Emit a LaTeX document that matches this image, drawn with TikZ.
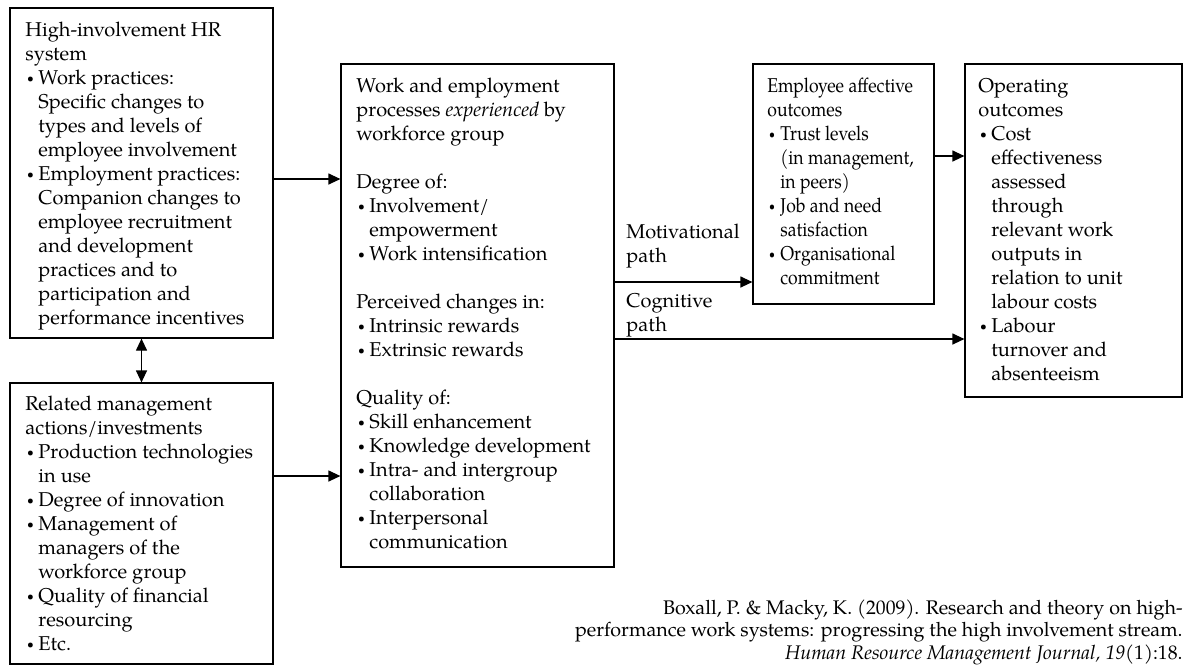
\documentclass[tikz,border=0pt]{standalone}
\usepackage{fontspec}
\setmainfont{TeX Gyre Pagella}
\newfontfamily\narrowpag[FakeStretch=0.88]{TeX Gyre Pagella}
\usetikzlibrary{arrows.meta,fit}
% small list bullet and the matching hanging indent
\newcommand\bu{\makebox[6.5pt][l]{\hspace{0.8pt}\raisebox{0.9pt}{\scalebox{0.6}{\textbullet}}}}
\newcommand\ind{\hspace*{6.5pt}}
\begin{document}
\begin{tikzpicture}[x=0.5pt,y=-0.5pt,
  box/.style={draw,line width=0.6pt,inner sep=0pt},
  txt/.style={anchor=north west,inner sep=0pt,align=left,font=\fontsize{10}{12}\selectfont},
  arr/.style={line width=0.6pt,-{Triangle[length=6pt,width=5.5pt]}},
  darr/.style={line width=0.6pt,{Triangle[length=6pt,width=5.5pt]}-{Triangle[length=6pt,width=5.5pt]}}]
\useasboundingbox (0,0) rectangle (1192,666);

% frames
\node[box,fit={(10,8)(273,338)}] (hr) {};
\node[box,fit={(10,383)(273,664)}] (rm) {};
\node[box,fit={(341,64)(614,567)}] (wp) {};
\node[box,fit={(753,64)(934,304)}] (ea) {};
\node[box,fit={(965,64)(1182,397)}] (oo) {};

% contents
\node[txt] (hrt) at (25,19.2) {\strut High-involvement HR\\
system\\
\bu Work practices:\\
\ind Specific changes to\\
\ind types and levels of\\
\ind employee involvement\\
\bu Employment practices:\\
\ind Companion changes to\\
\ind employee recruitment\\
\ind and development\\
\ind practices and to\\
\ind participation and\\
\ind performance incentives};

\node[txt] (rmt) at (25,393.2) {\strut Related management\\
actions/investments\\
\bu Production technologies\\
\ind in use\\
\bu Degree of innovation\\
\bu Management of\\
\ind managers of the\\
\ind workforce group\\
\bu Quality of financial\\
\ind resourcing\\
\bu Etc.};

\node[txt] (wpt) at (356,75.2) {\strut Work and employment\\
processes \textit{experienced} by\\
workforce group\\[12pt]
Degree of:\\
\bu Involvement/\\
\ind empowerment\\
\bu Work intensification\\[12pt]
Perceived changes in:\\
\bu Intrinsic rewards\\
\bu Extrinsic rewards\\[12pt]
Quality of:\\
\bu Skill enhancement\\
\bu Knowledge development\\
\bu Intra- and intergroup\\
\ind collaboration\\
\bu Interpersonal\\
\ind communication};

\node[txt,font=\narrowpag\fontsize{10}{12}\selectfont] (eat) at (767,75.2) {\strut Employee affective\\
outcomes\\
\bu Trust levels\\
\ind (in management,\\
\ind in peers)\\
\bu Job and need\\
\ind satisfaction\\
\bu Organisational\\
\ind commitment};

\node[txt] (oot) at (978,75.2) {\strut Operating\\
outcomes\\
\bu Cost\\
\ind effectiveness\\
\ind assessed\\
\ind through\\
\ind relevant work\\
\ind outputs in\\
\ind relation to unit\\
\ind labour costs\\
\bu Labour\\
\ind turnover and\\
\ind absenteeism};

% path labels
\node[txt] (mot) at (626,221.2) {\strut Motivational\\path};
\node[txt] (cog) at (626,290.2) {\strut Cognitive\\path};

% connectors
\draw[arr] (hr.east |- 0,179) -- (wp.west |- 0,179);
\draw[arr] (rm.east |- 0,476) -- (wp.west |- 0,476);
\draw[darr] (hr.south) -- (rm.north);
\draw[arr] (wp.east |- 0,282) -- (ea.west |- 0,282);
\draw[arr] (wp.east |- 0,339) -- (oo.west |- 0,339);
\draw[arr] (ea.east |- 0,156) -- (oo.west |- 0,156);

% source
\node[anchor=north east,inner sep=0pt,align=right,font=\fontsize{9.85}{11.25}\selectfont] (src) at (1183,598)
  {\strut Boxall, P. \& Macky, K. (2009). Research and theory on high-\\
  performance work systems: progressing the high involvement stream.\\
  \textit{Human Resource Management Journal, 19}(1):18.};
\end{tikzpicture}
\end{document}
